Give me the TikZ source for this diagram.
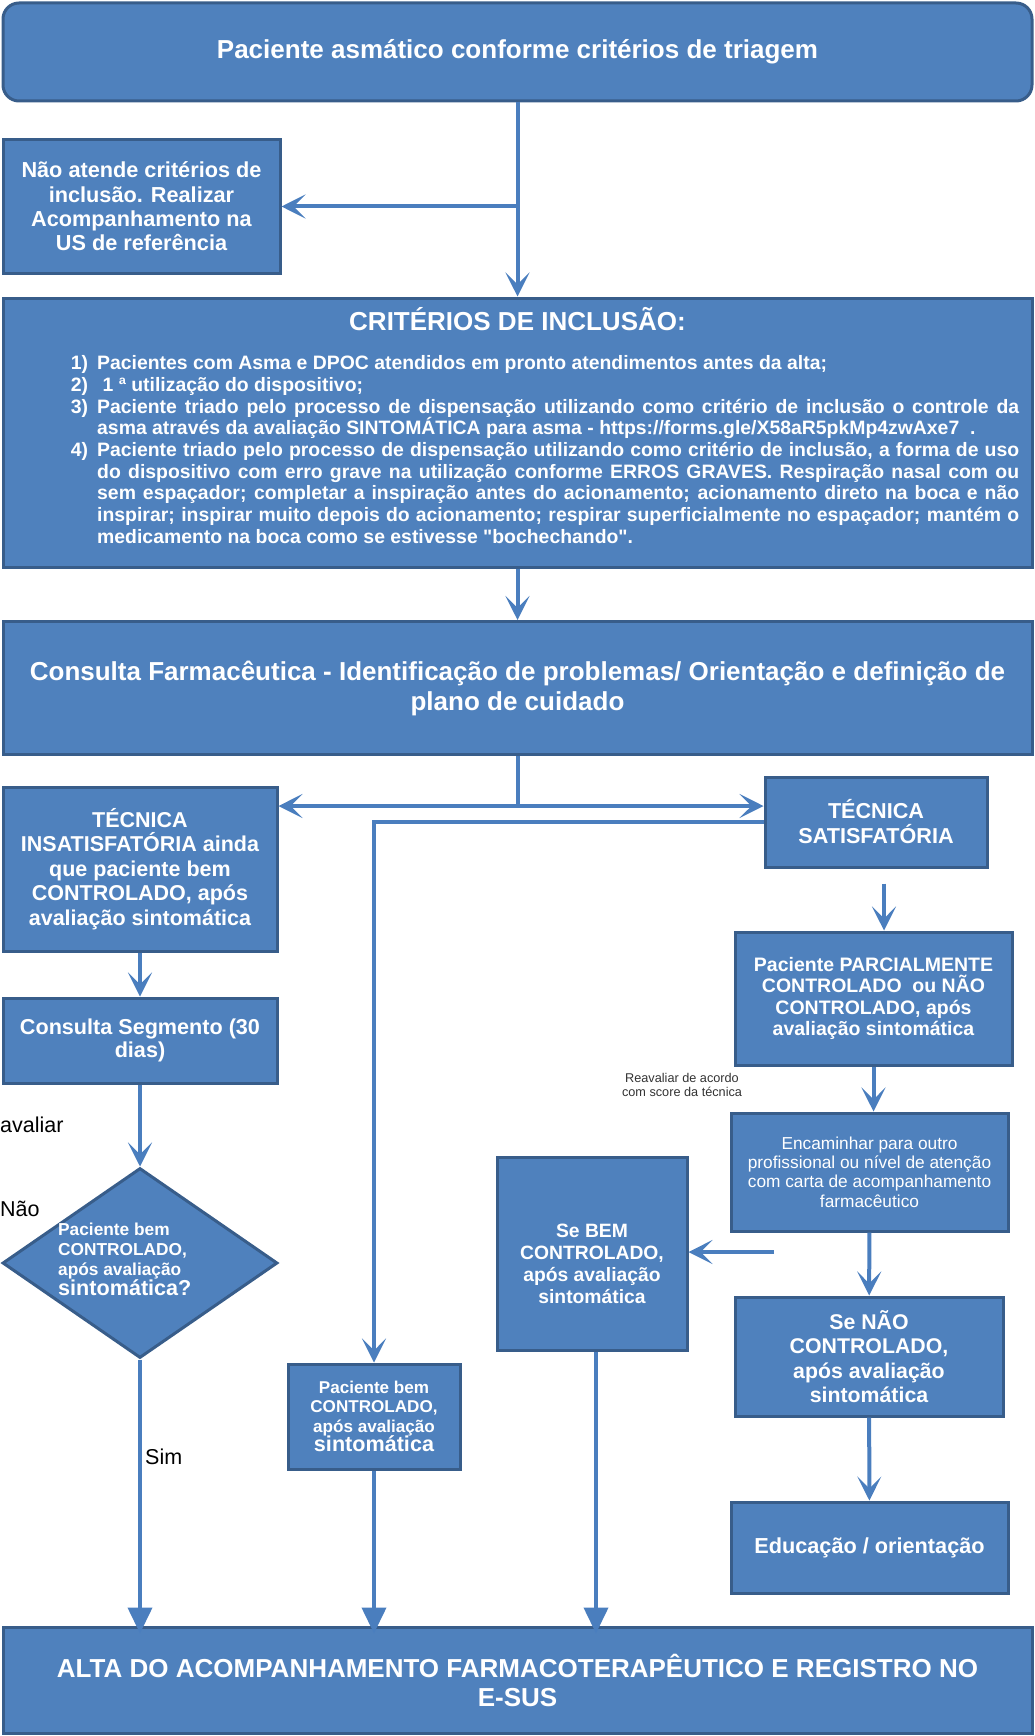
\documentclass[tikz,border=0pt]{standalone}
\usepackage{fontspec}
\setmainfont{Liberation Sans}[Ligatures=TeXOff]
\usepackage{xcolor}
\usepackage{tikz}
\usetikzlibrary{shapes.geometric, arrows.meta, positioning, calc}
\definecolor{boxfill}{RGB}{79, 129, 189}
\definecolor{boxline}{RGB}{56, 93, 138}
\definecolor{flowline}{RGB}{74, 126, 190}
\newcommand{\fsz}[2]{\fontsize{#1}{#2}\selectfont}
\newcommand{\itemno}[1]{\leavevmode\llap{#1\hspace{9pt}}}

\begin{document}
\begin{tikzpicture}[
    x=1pt, y=-1pt,
    box/.style={draw=boxline, line width=3pt, fill=boxfill, text=white, align=center, inner sep=0pt, minimum width=#1},
    arr/.style={draw=flowline, line width=4pt, -{Stealth[length=24pt, width=24pt, inset=12pt]}},
    tri/.style={draw=flowline, line width=4pt, -{Triangle[length=26pt, width=24pt]}, shorten >=-8pt},
    lbl/.style={font=\fsz{21.5}{24}, text=black, inner sep=0pt}
]
    \useasboundingbox (0,0) rectangle (1034,1736);

    % Boxes
    \node[box=1029pt, minimum height=98pt, rounded corners=16pt, font=\fsz{26}{30}\bfseries] (top) at (517.5, 52) {Paciente asmático conforme critérios de triagem};
    \node[box=277pt, minimum height=133pt, font=\fsz{21.7}{24.4}\bfseries] (nao) at (141.5, 206.5) {Não atende critérios de\\inclusão. Realizar\\Acompanhamento na\\US de referência};

    \node[box=1029pt, minimum height=269pt] (crit) at (517.5, 432.5) {};
    \node[font=\fsz{26}{30}\bfseries, text=white] (crittitle) at (517.5, 319) {CRITÉRIOS DE INCLUSÃO:};
    \node[font=\fsz{19.4}{21.7}\bfseries, text=white, text width=922pt, align=justify, anchor=north west, inner sep=0pt] (critlist) at (97, 355.5) {\parindent=0pt
        \itemno{1)}Pacientes com Asma e DPOC atendidos em pronto atendimentos antes da alta;\par
        \itemno{2)}\ 1 ª utilização do dispositivo;\par
        \itemno{3)}Paciente triado pelo processo de dispensação utilizando como critério de inclusão o controle da\linebreak
        asma através da avaliação SINTOMÁTICA para asma - https://forms.gle/X58aR5pkMp4zwAxe7\ \ .\par
        \itemno{4)}Paciente triado pelo processo de dispensação utilizando como critério de inclusão, a forma de uso\linebreak
        do dispositivo com erro grave na utilização conforme ERROS GRAVES. Respiração nasal com ou\linebreak
        sem espaçador; completar a inspiração antes do acionamento; acionamento direto na boca e não\linebreak
        inspirar; inspirar muito depois do acionamento; respirar superficialmente no espaçador; mantém o\linebreak
        medicamento na boca como se estivesse "bochechando".};

    \node[box=1029pt, minimum height=133pt, font=\fsz{26}{30}\bfseries] (cons) at (517.5, 688) {Consulta Farmacêutica - Identificação de problemas/ Orientação e definição de\\plano de cuidado};

    \node[box=274pt, minimum height=164pt, font=\fsz{21.5}{24.5}\bfseries] (insat) at (140, 869) {TÉCNICA\\INSATISFATÓRIA ainda\\que paciente bem\\CONTROLADO, após\\avaliação sintomática};
    \node[box=222pt, minimum height=90pt, font=\fsz{21.6}{25}\bfseries] (sat) at (876, 822) {TÉCNICA\\SATISFATÓRIA};
    \node[box=277pt, minimum height=133pt, font=\fsz{19.5}{21.6}\bfseries] (parc) at (873.5, 998.5) {Paciente PARCIALMENTE\\CONTROLADO\ \ ou NÃO\\CONTROLADO, após\\avaliação sintomática};
    \node[box=274pt, minimum height=85pt, font=\fsz{21.6}{23.5}\bfseries] (seg) at (140, 1040.5) {Consulta Segmento (30\\dias)};

    \node[diamond, draw=boxline, line width=3pt, fill=boxfill, inner sep=0pt, minimum width=275pt, minimum height=190pt] (dia) at (140, 1263) {};
    \node[font=\fsz{17.3}{20}\bfseries, text=white, align=left, anchor=west, inner sep=0pt] (dialbl) at (58, 1259) {Paciente bem\\CONTROLADO,\\após avaliação\\{\fsz{21.6}{22}sintomática?}};

    \node[box=277pt, minimum height=118pt, font=\fsz{17.3}{19.4}] (enc) at (869.5, 1172) {Encaminhar para outro\\profissional ou nível de atenção\\com carta de acompanhamento\\farmacêutico};
    \node[box=190pt, minimum height=193pt, font=\fsz{19.3}{21.8}\bfseries] (sebem) at (592, 1253.5) {{}\\[12pt]Se BEM\\CONTROLADO,\\após avaliação\\sintomática};
    \node[box=268pt, minimum height=119pt, font=\fsz{21.3}{24.4}\bfseries] (senao) at (869, 1356.5) {Se NÃO\\CONTROLADO,\\após avaliação\\sintomática};
    \node[box=172pt, minimum height=105pt, font=\fsz{17.1}{19.5}\bfseries] (pbem) at (374, 1416.5) {Paciente bem\\CONTROLADO,\\após avaliação\\{\fsz{21.6}{22}sintomática}};
    \node[box=277pt, minimum height=91pt, font=\fsz{21.7}{25}\bfseries] (edu) at (869.5, 1547.5) {Educação / orientação};

    \node[box=1029pt, minimum height=106pt, font=\fsz{26}{29}\bfseries] (alta) at (517.5, 1680) {ALTA DO ACOMPANHAMENTO FARMACOTERAPÊUTICO E REGISTRO NO\\E-SUS};

    % Labels
    \node[lbl, anchor=west] (avaliar) at (0, 1125) {avaliar};
    \node[lbl, anchor=west] (naolbl) at (0, 1209) {Não};
    \node[lbl, anchor=west] (sim) at (145, 1457) {Sim};
    \node[font=\fsz{12.7}{13.5}, text=black!80, align=center, inner sep=0pt] (reav) at (682, 1085) {Reavaliar de acordo\\com score da técnica};

    % Connectors
    \draw[arr] (top) -- (crit);
    \draw[arr] (top.south |- nao.east) -- (nao.east);
    \draw[arr] (crit) -- (cons);

    \coordinate (split) at ($(cons.south)+(0,50)$);
    \draw[draw=flowline, line width=4pt] (cons.south) -- (split);
    \draw[arr] (split) -- (split -| insat.east);
    \draw[arr] (split) -- (split -| sat.west);
    \draw[arr] (sat.west) -| (pbem.north);

    \draw[arr] ([xshift=8pt, yshift=-15pt]sat.south) -- ([xshift=8pt]sat.south |- parc.north);
    \draw[arr] (parc.south) -- (parc.south |- enc.north);
    \draw[arr] (enc) -- (senao);
    \draw[arr] (senao) -- (edu);
    \coordinate (back) at (774, 1252);
    \draw[arr] (back) -- (back -| sebem.east);

    \draw[arr] (insat) -- (seg);
    \draw[arr] (seg) -- (dia);
    \draw[tri] (dia.south) -- (dia.south |- alta.north);
    \draw[tri] (pbem.south) -- (pbem.south |- alta.north);
    \draw[tri] ([xshift=4pt]sebem.south) -- ([xshift=4pt]sebem.south |- alta.north);

\end{tikzpicture}
\end{document}
